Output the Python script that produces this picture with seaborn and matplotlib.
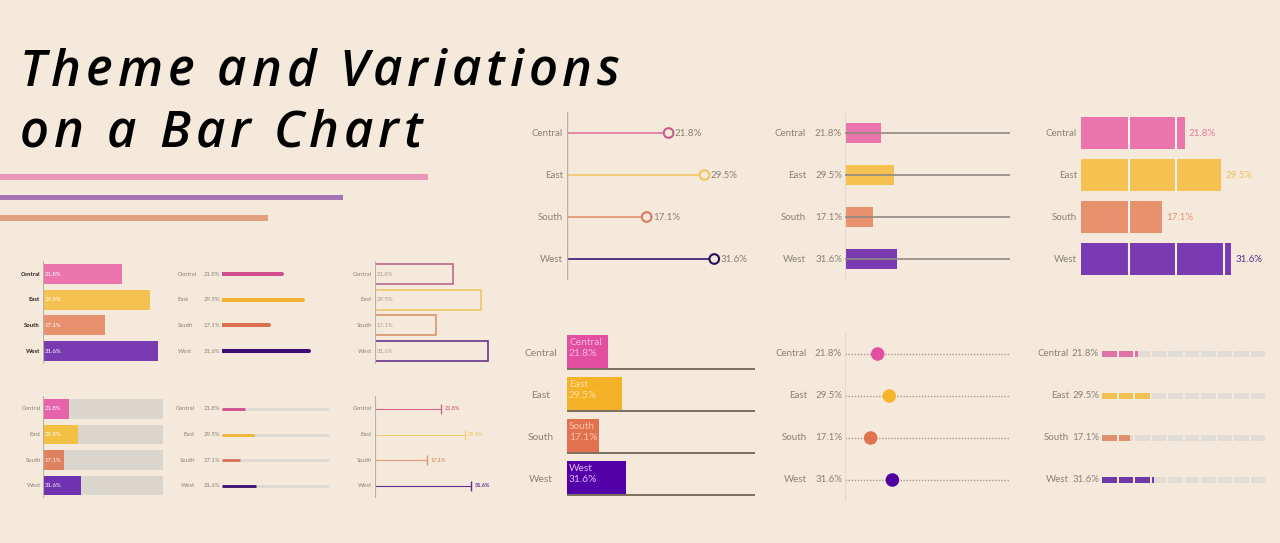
import numpy as np
import pandas as pd
import matplotlib
matplotlib.use("Agg")
import matplotlib.pyplot as plt
import matplotlib.transforms as mtransforms
from matplotlib import font_manager as fm
from matplotlib.ft2font import FT2Font
import seaborn as sns

# ---------------- data ----------------
regions = ["Central", "East", "South", "West"]
share = [21.8, 29.5, 17.1, 31.6]
share_labels = ["21.8%", "29.5%", "17.1%", "31.6%"]
full_scale = [100, 100, 100, 100]
title_lines = ["Theme and Variations", "on a Bar Chart"]
deco_names = ["stroke1", "stroke2", "stroke3"]
deco_lengths = [428, 343, 268]          # decorative header strokes
seg_starts = [0, 10, 20, 30, 40, 50, 60, 70, 80, 90]   # 10-point blocks
divider_marks = [10, 20, 30]

# ---------------- style ----------------
BG = "#F5E9DB"
GREY_TXT = "#8A8176"
AXLINE = "#B9B0A3"
pal_base = ["#EA74AB", "#F5C150", "#E8916F", "#7A3BB2"]
pal_line = ["#D14D8D", "#F2B332", "#D9714F", "#3C0E73"]
pal_outline = ["#B86A90", "#F2C565", "#D8946E", "#643388"]
pal_track = ["#E563A9", "#F2C043", "#E0815F", "#7032B0"]
pal_thin = ["#D9668A", "#F3CB75", "#E0946F", "#603090"]
pal_lolli_line = ["#E27FA2", "#F2CB72", "#E29A78", "#42287A"]
pal_lolli_ring = ["#C85C8A", "#EFC460", "#D97A60", "#24105A"]
pal_vivid = ["#E24FA0", "#F5B128", "#E2714F", "#5400A8"]
pal_vivid_text = ["#FBB8E0", "#FBE3A0", "#FBC6A8", "#E0B8FF"]
pal_dots = ["#E24FA0", "#F7B52A", "#E2714F", "#50009E"]
pal_seg = ["#E070A8", "#F0C050", "#E09070", "#7038A8"]
pal_C_text = ["#E87AA5", "#F2C15A", "#E89070", "#5A2A90"]
deco_colors = ["#E899B9", "#A474B4", "#E2A07E"]

sns.set_theme(style="white")
plt.rcParams["font.family"] = ["Lato", "DejaVu Sans"]

W, H, DPI = 1280, 543, 100
fig = plt.figure(figsize=(W / DPI, H / DPI), dpi=DPI)
fig.patch.set_facecolor(BG)


def panel(x0, x1, first_row, spacing, n=4):
    top = first_row - spacing / 2
    bot = first_row + spacing * (n - 1) + spacing / 2
    ax = fig.add_axes([x0 / W, 1 - bot / H, (x1 - x0) / W, (bot - top) / H])
    ax.patch.set_alpha(0)
    return ax


def finish(ax, x0, x1, k, n=4):
    ax.set_xlim(0, (x1 - x0) / k)
    ax.set_ylim(n - 0.5, -0.5)
    ax.set_axis_off()


def txt(ax, x, y, s, dx=0, dy=0, **kw):
    tr = ax.transData + mtransforms.ScaledTranslation(dx / DPI, -dy / DPI, fig.dpi_scale_trans)
    ax.text(x, y, s, transform=tr, clip_on=False, **kw)


pos = np.arange(len(regions))
df = pd.DataFrame({"region": regions, "share": share, "full": full_scale})

# ---------------- title (tracked italic) ----------------
TSIZE = 36.5
WEIGHT_NUM = {"normal": 400, "regular": 400, "book": 400, "medium": 500, "semibold": 600,
              "demibold": 600, "bold": 700, "light": 300, "heavy": 800, "black": 900}


def wnum(w):
    return w if isinstance(w, (int, float)) else WEIGHT_NUM.get(str(w).lower(), 400)


cands = [f for f in fm.fontManager.ttflist
         if f.name in ("Open Sans", "Noto Sans") and f.style == "italic"
         and "ondensed" not in f.fname and "ondensed" not in f.name
         and f.stretch in ("normal", 500, "500")]
if cands:
    best = min(cands, key=lambda f: (f.name != "Open Sans", abs(wnum(f.weight) - 600)))
    tprop = fm.FontProperties(fname=best.fname, size=TSIZE)
    tpath = best.fname
else:
    tprop = fm.FontProperties(family="DejaVu Sans", style="oblique", weight="bold", size=TSIZE * 0.9)
    tpath = fm.findfont(tprop)
ft = FT2Font(tpath)
ft.set_size(tprop.get_size_in_points(), DPI)


def advances(s):
    return [ft.load_char(ord(c)).linearHoriAdvance / 65536 for c in s]


adv1 = advances(title_lines[0])
tracking = max(0.0, (600 - sum(adv1)) / (len(title_lines[0]) - 1))
for line, base, xstart in zip(title_lines, [86, 147], [20, 20]):
    x = xstart
    for c, a in zip(line, advances(line)):
        fig.text(x / W, 1 - base / H, c, fontproperties=tprop, color="black",
                 va="baseline", ha="left")
        x += a + tracking

# decorative strokes
ax = panel(0, W, 177, 20.5, n=3)
sns.barplot(x=deco_lengths, y=deco_names, hue=deco_names, palette=deco_colors,
            saturation=1, width=0.28, legend=False, orient="h", linewidth=0, ax=ax)
finish(ax, 0, W, 1.0, n=3)

# ---------------- small panel row 1 ----------------
SF = 4.3
# P1: classic bars
x0, x1, k = 43, 163, 3.63
ax = panel(x0, x1, 274, 25.67)
sns.barplot(data=df, x="share", y="region", hue="region", palette=pal_base, saturation=1,
            width=0.78, legend=False, orient="h", errorbar=None, linewidth=0, ax=ax)
ax.axvline(0, color=AXLINE, lw=0.8)
for i in pos:
    txt(ax, 0, i, regions[i], dx=-3, ha="right", va="center", fontsize=SF, weight="bold", color="#2B2520")
    txt(ax, 0, i, share_labels[i], dx=2, ha="left", va="center", fontsize=SF, color="white")
finish(ax, x0, x1, k)

# P2: thick rounded lines
x0, x1, k = 222, 320, 2.76
ax = panel(x0, x1, 274, 25.67)
ax.hlines(pos, 0, share, colors=pal_line, lw=2.9, capstyle="round")
for i in pos:
    txt(ax, 0, i, regions[i], dx=-44, ha="left", va="center", fontsize=SF, color=GREY_TXT)
    txt(ax, 0, i, share_labels[i], dx=-2, ha="right", va="center", fontsize=SF, color=GREY_TXT)
finish(ax, x0, x1, k)

# P3: outlined bars
x0, x1, k = 375, 492, 3.59
ax = panel(x0, x1, 274, 25.67)
sns.barplot(data=df, x="share", y="region", hue="region", palette=pal_outline, saturation=1,
            width=0.78, legend=False, orient="h", errorbar=None, fill=False, linewidth=1.2, ax=ax)
ax.axvline(0, color=AXLINE, lw=0.8)
for i in pos:
    txt(ax, 0, i, regions[i], dx=-3, ha="right", va="center", fontsize=SF, color=GREY_TXT)
    txt(ax, 0, i, share_labels[i], dx=2, ha="left", va="center", fontsize=SF, color="#A89E92")
finish(ax, x0, x1, k)

# ---------------- small panel row 2 ----------------
# P4: bars on 100% track
x0, x1, k = 43, 163, 1.2
ax = panel(x0, x1, 409, 25.5)
sns.barplot(data=df, x="full", y="region", color="#DAD6CE", saturation=1, width=0.76,
            orient="h", errorbar=None, linewidth=0, ax=ax)
sns.barplot(data=df, x="share", y="region", hue="region", palette=pal_track, saturation=1,
            width=0.76, legend=False, orient="h", errorbar=None, linewidth=0, ax=ax)
ax.axvline(0, color=AXLINE, lw=0.8)
for i in pos:
    txt(ax, 0, i, regions[i], dx=-2, ha="right", va="center", fontsize=SF, color=GREY_TXT)
    txt(ax, 0, i, share_labels[i], dx=2, ha="left", va="center", fontsize=SF, color="white")
finish(ax, x0, x1, k)

# P5: thin progress lines
x0, x1, k = 222, 330, 1.07
ax = panel(x0, x1, 409, 25.5)
ax.hlines(pos, 0, full_scale, colors="#DDD9D2", lw=2.0)
ax.hlines(pos, 0, share, colors=pal_line, lw=2.0)
for i in pos:
    txt(ax, 0, i, regions[i], dx=-27, ha="right", va="center", fontsize=SF, color=GREY_TXT)
    txt(ax, 0, i, share_labels[i], dx=-2, ha="right", va="center", fontsize=SF, color=GREY_TXT)
finish(ax, x0, x1, k)

# P6: thin lines with end ticks
x0, x1, k = 375, 480, 3.05
ax = panel(x0, x1, 409, 25.5)
ax.hlines(pos, 0, share, colors=pal_thin, lw=0.8)
for i in pos:
    ax.plot(share[i], i, marker="|", ms=7, mew=1.0, color=pal_thin[i])
    txt(ax, share[i], i, share_labels[i], dx=3, ha="left", va="center", fontsize=SF - 0.3,
        weight="bold", color=pal_thin[i])
    txt(ax, 0, i, regions[i], dx=-3, ha="right", va="center", fontsize=SF, color=GREY_TXT)
ax.axvline(0, color=AXLINE, lw=0.8)
finish(ax, x0, x1, k)

# ---------------- big panels top ----------------
BF = 7
# PA: lollipop with rings
x0, x1, k = 567, 765, 4.66
ax = panel(x0, x1, 133, 42)
ax.hlines(pos, 0, share, colors=pal_lolli_line, lw=1.3)
sns.scatterplot(x=share, y=pos, hue=regions, palette=pal_lolli_ring, s=48, legend=False, ax=ax, zorder=3)
coll = ax.collections[-1]
coll.set_facecolor(BG)
coll.set_edgecolor(pal_lolli_ring)
coll.set_linewidth(1.5)
ax.axvline(0, color=AXLINE, lw=1.0)
for i in pos:
    txt(ax, share[i], i, share_labels[i], dx=6, ha="left", va="center", fontsize=BF, color=GREY_TXT)
    txt(ax, 0, i, regions[i], dx=-4, ha="right", va="center", fontsize=BF, color=GREY_TXT)
finish(ax, x0, x1, k)

# PB: short bars on grey reference line
x0, x1, k = 845, 1010, 1.65
ax = panel(x0, x1, 133, 42)
sns.barplot(data=df, x="share", y="region", hue="region", palette=pal_base, saturation=1,
            width=0.47, legend=False, orient="h", errorbar=None, linewidth=0, ax=ax)
ax.hlines(pos, 0, full_scale, colors="#8E8A84", lw=1.2, zorder=3)
ax.axvline(0, color="#E4DACD", lw=0.8)
ax.axvline(100, color="#E4DACD", lw=0.8)
for i in pos:
    txt(ax, 0, i, regions[i], dx=-39, ha="right", va="center", fontsize=BF, color=GREY_TXT)
    txt(ax, 0, i, share_labels[i], dx=-3, ha="right", va="center", fontsize=BF, color=GREY_TXT)
finish(ax, x0, x1, k)

# PC: fat bars with 10-point dividers
x0, x1, k = 1081, 1272, 4.75
ax = panel(x0, x1, 133, 42)
sns.barplot(data=df, x="share", y="region", hue="region", palette=pal_base, saturation=1,
            width=0.76, legend=False, orient="h", errorbar=None, linewidth=0, ax=ax)
for i in pos:
    for t in divider_marks:
        if t < share[i]:
            ax.vlines(t, i - 0.38, i + 0.38, colors="#FBF4EE", lw=1.5, zorder=3)
    txt(ax, share[i], i, share_labels[i], dx=4, ha="left", va="center", fontsize=BF, color=pal_C_text[i])
    txt(ax, 0, i, regions[i], dx=-4, ha="right", va="center", fontsize=BF, color=GREY_TXT)
finish(ax, x0, x1, k)

# ---------------- big panels bottom ----------------
# PD: bars with baseline and inner labels
x0, x1, k = 567, 755, 1.88
ax = panel(x0, x1, 352, 42)
sns.barplot(data=df, x="share", y="region", hue="region", palette=pal_vivid, saturation=1,
            width=0.81, legend=False, orient="h", errorbar=None, linewidth=0, ax=ax)
ax.hlines(pos + 0.405, 0, full_scale, colors="#7A6E60", lw=1.4, zorder=3)
for i in pos:
    txt(ax, 0, i, regions[i], dx=-26, dy=2, ha="center", va="center", fontsize=BF + 0.3, color=GREY_TXT)
    txt(ax, 0, i - 0.405, f"{regions[i]}\n{share_labels[i]}", dx=2, dy=3, ha="left", va="top",
        fontsize=BF + 0.3, color=pal_vivid_text[i], linespacing=1.25)
finish(ax, x0, x1, k)

# PE: dot plot on dotted lines
x0, x1, k = 845, 1010, 1.5
ax = panel(x0, x1, 354, 42)
ax.hlines(pos, 0, (x1 - x0) / k, colors="#A39A8D", lw=1.0, linestyles=(0, (1, 1.2)))
sns.scatterplot(x=share, y=pos, hue=regions, palette=pal_dots, s=95, linewidth=0,
                legend=False, ax=ax, zorder=3)
ax.axvline(0, color="#E2D8CB", lw=0.8)
ax.axvline((x1 - x0) / k, color="#E2D8CB", lw=0.8)
for i in pos:
    txt(ax, 0, i, regions[i], dx=-38, ha="right", va="center", fontsize=BF, color=GREY_TXT)
    txt(ax, 0, i, share_labels[i], dx=-3, ha="right", va="center", fontsize=BF, color=GREY_TXT)
finish(ax, x0, x1, k)

# PF: segmented (10-point blocks) bars
x0, x1, k = 1102, 1267, 1.65
ax = panel(x0, x1, 354, 42)
gap = 2.0 / k
for i in pos:
    for s0 in seg_starts:
        ax.barh(i, 10 - gap, left=s0, height=0.14, color="#E1DCD5", lw=0)
        filled = min(max(share[i] - s0, 0), 10 - gap)
        if filled > 0:
            ax.barh(i, filled, left=s0, height=0.14, color=pal_seg[i], lw=0)
    txt(ax, 0, i, regions[i], dx=-33, ha="right", va="center", fontsize=BF, color=GREY_TXT)
    txt(ax, 0, i, share_labels[i], dx=-3, ha="right", va="center", fontsize=BF, color=GREY_TXT)
finish(ax, x0, x1, k)

fig.savefig("out.png", dpi=DPI, facecolor=BG)
